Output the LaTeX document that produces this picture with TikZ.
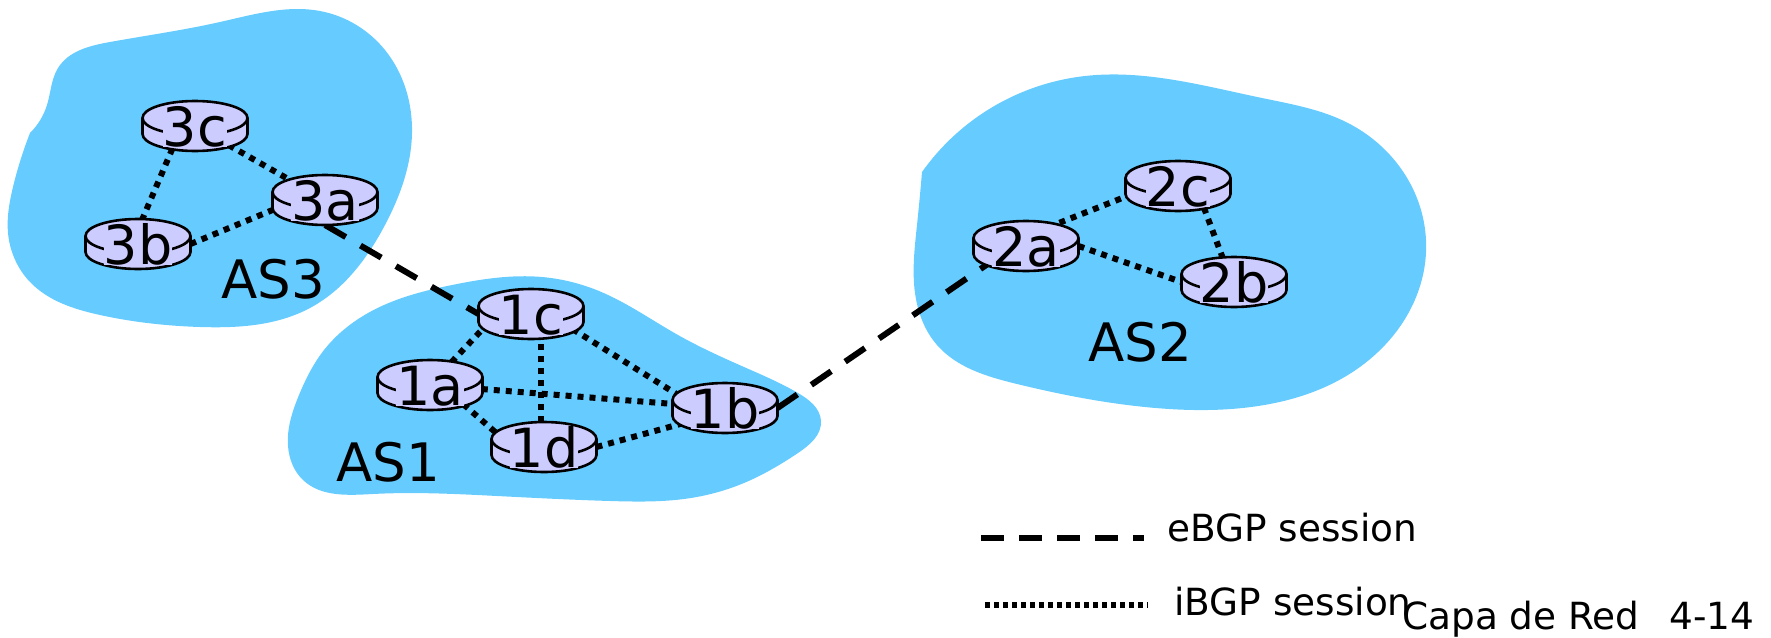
\documentclass[tikz,border=0pt]{standalone}
\usepackage{fontspec}
\setmainfont{DejaVu Sans}
\usetikzlibrary{shapes.geometric,hobby}
\pgfdeclarelayer{back}
\pgfsetlayers{back,main}
\definecolor{ascolor}{HTML}{66CCFF}
\definecolor{routercolor}{HTML}{CCCCFF}
\tikzset{
  asblob/.style={fill=ascolor, draw=none, use Hobby shortcut},
  routerline/.style={draw=black, fill=routercolor, line width=1.3pt},
  router/.style={ % image of a router: flat disc, node is the whole outline
    ellipse, inner sep=0pt, outer sep=0pt,
    minimum width=52.5pt, minimum height=25pt,
    append after command={\pgfextra{
      \draw[routerline] ([yshift=4pt]\tikzlastnode.west) -- ([yshift=-4pt]\tikzlastnode.west)
        arc[start angle=180, end angle=360, x radius=26.25pt, y radius=8.5pt]
        -- ([yshift=4pt]\tikzlastnode.east);
      \draw[routerline] ([yshift=4pt]\tikzlastnode.center) ellipse[x radius=26.25pt, y radius=8.5pt];
    }}
  },
  routertext/.style={
    fill=routercolor, inner xsep=0pt, inner ysep=0pt, text height=18pt, text depth=0pt,
    yshift=-1.3pt, font=\fontsize{27}{27}\selectfont, text=black
  },
  astext/.style={anchor=base west, inner sep=0pt, font=\fontsize{26.5}{26.5}\selectfont},
  legendtext/.style={anchor=base west, inner sep=0pt, font=\fontsize{18.7}{18.7}\selectfont},
  ebgp/.style={line width=3pt, dash pattern=on 12pt off 8.5pt},
  ebgpkey/.style={line width=3pt, dash pattern=on 11.5pt off 7.5pt},
  ibgp/.style={line width=3pt, dash pattern=on 3pt off 3pt},
  ibgpkey/.style={line width=3pt, dash pattern=on 2.5pt off 2pt}
}
\begin{document}
\begin{tikzpicture}[x=0.5pt, y=-0.5pt]
  \useasboundingbox (0,0) rectangle (1771,637);

  % routers
  \node[router, label={[routertext]center:3c}] (r3c) at (195,126) {};
  \node[router, label={[routertext]center:3a}] (r3a) at (325,200) {};
  \node[router, label={[routertext]center:3b}] (r3b) at (138,244) {};
  \node[router, label={[routertext]center:1c}] (r1c) at (531,314) {};
  \node[router, label={[routertext]center:1a}] (r1a) at (430,385) {};
  \node[router, label={[routertext]center:1b}] (r1b) at (725,408) {};
  \node[router, label={[routertext]center:1d}] (r1d) at (544,447) {};
  \node[router, label={[routertext]center:2a}] (r2a) at (1026,246) {};
  \node[router, label={[routertext]center:2c}] (r2c) at (1178,186) {};
  \node[router, label={[routertext]center:2b}] (r2b) at (1234,282) {};

  \node[astext] (as3) at (221,298) {AS3};
  \node[astext] (as1) at (336,481) {AS1};
  \node[astext] (as2) at (1088,361) {AS2};

  % key
  \coordinate (ekeya) at (981,538);
  \coordinate (ekeyb) at (1144,538);
  \coordinate (ikeya) at (985,605);
  \coordinate (ikeyb) at (1148,605);
  \node[legendtext] (etext) at (1167,541) {eBGP session};
  \node[legendtext] (itext) at (1174,615) {iBGP session};
  \node[legendtext] (capa) at (1402,629) {Capa de Red};
  \node[legendtext] (page) at (1669,629) {4-14};
  \draw[ebgpkey] (ekeya) -- (ekeyb);
  \draw[ibgpkey] (ikeya) -- (ikeyb);

  \begin{pgfonlayer}{back}
    % AS regions
    \path[asblob] (30,133) .. (47,105) .. (58,68) .. (110,42) .. (220,22) .. (320,11) .. (385,50) .. (412,133) .. (385,225) .. (310,308) .. (200,327) .. (100,315) .. (30,282) .. (8,233) .. (13,187) .. (30,133) -- cycle;
    \path[asblob] ([closed]324,350) .. (384,305) .. (452,285) .. (542,277) .. (599,291) .. (678,335) .. (744,367) .. (798,393) .. (821,421) .. (798,453) .. (744,483) .. (691,498) .. (610,501) .. (497,496) .. (373,494) .. (303,480) .. (288,446) .. (299,395);
    \path[asblob] (922,172) .. (983,113) .. (1085,76) .. (1262,98) .. (1348,123) .. (1426,240) .. (1385,345) .. (1169,409) .. (1017,384) .. (937,345) .. (915,293) .. (917,225) .. (922,172) -- cycle;

    % sessions
    \draw[ebgp] (r3a.south) -- (r1c.west);
    \draw[ebgp] (r1b.east) -- (r2a.-155);
    \draw[ibgp] (r3c.-135) -- (r3b.80);
    \draw[ibgp] (r3c) -- (r3a);
    \draw[ibgp] (r3b.east) -- (r3a.190);
    \draw[ibgp] (r1a) -- (r1c.-165);
    \draw[ibgp] (r1a) -- (r1b);
    \draw[ibgp] ([xshift=-1.5pt]r1d.north) -- ([xshift=-1.5pt]r1d.north |- r1c.south);
    \draw[ibgp] (r1c.-20) -- (r1b.165);
    \draw[ibgp] (r1a.-30) -- (r1d.165);
    \draw[ibgp] (r1d.east) -- (r1b.-160);
    \draw[ibgp] ([yshift=5pt]r2a.center) -- ([yshift=5pt]r2c.center);
    \draw[ibgp] (r2a.east) -- (r2b.west);
    \draw[ibgp] (r2c.-40) -- (r2b.115);
  \end{pgfonlayer}
\end{tikzpicture}
\end{document}
